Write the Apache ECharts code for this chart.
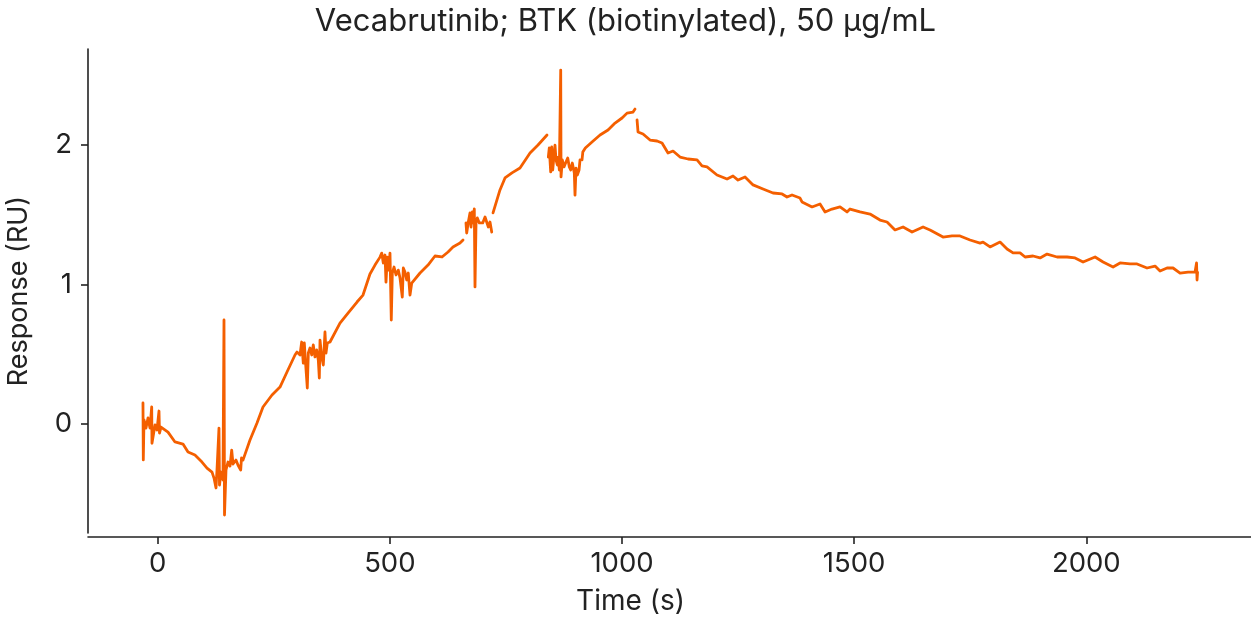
<!DOCTYPE html>
<html>
<head>
<meta charset="utf-8">
<script src="https://cdn.jsdelivr.net/npm/echarts@6/dist/echarts.min.js"></script>
<style>
html,body{margin:0;padding:0;background:#fff;}
#chart{width:1251px;height:620px;}
</style>
</head>
<body>
<div id="chart"></div>
<script>
// Sensorgram data (time in s, response in RU); null = gap in trace
const times = [
  -31.7,-31.0,-29.5,-25.2,-20.9,-16.6,-12.9,-12.3,-5.8,-1.5,2.8,3.9,7.1,22.2,37.3,54.5,65.3,80.3,95.4,106.2,117.0,
  121.3,125.6,127.7,132.0,133.1,136.3,140.6,142.8,143.9,147.1,151.4,155.7,159.4,162.2,168.6,172.9,178.8,180.5,183.7,
  198.8,213.9,226.8,246.2,263.4,278.5,295.7,
  300.0,306.5,310.1,313.6,315.8,318.8,322.2,324.4,328.0,331.7,335.1,338.8,342.5,345.9,348.1,349.6,353.2,356.7,360.3,362.5,365.3,
  371.1,392.6,409.9,429.3,442.2,457.2,468.0,478.8,
  482.5,485.9,489.6,491.7,494.5,497.5,500.3,502.5,503.1,505.3,509.0,513.3,518.2,521.9,526.8,529.0,532.6,536.3,539.7,543.4,547.1,550.5,
  565.0,582.2,597.2,612.3,625.3,636.0,651.1,657.6,661.0,
  664.0,665.5,669.0,672.6,674.8,677.6,679.8,681.9,683.4,685.6,688.4,692.7,695.7,700.0,705.0,708.6,712.1,715.7,719.4,721.0,
  722.2,737.2,748.0,763.0,780.3,801.9,819.1,838.5,840.0,
  841.3,843.4,846.4,848.6,850.8,853.6,855.7,857.9,860.7,862.8,865.0,868.0,868.7,871.5,875.1,879.4,883.1,886.5,889.5,893.0,897.3,898.8,901.0,903.8,907.5,909.6,912.0,
  913.9,915.6,921.0,935.4,952.7,969.9,985.0,1000.1,1010.8,1023.8,1028.1,1030.5,
  1032.4,1034.5,1045.3,1060.4,1075.4,1086.2,1099.1,1109.9,1125.0,1142.2,1161.6,1172.3,1183.1,1204.6,1226.2,1239.1,1249.9,1265.0,1282.2,
  1303.7,1325.3,1344.7,1355.4,1366.2,1383.4,1387.7,1409.3,1426.5,1437.3,1452.3,1469.6,1484.6,1491.1,1512.6,1534.2,1555.7,1570.8,1588.0,
  1605.3,1624.7,1648.4,1663.4,1691.4,1710.8,1728.0,1749.6,1771.1,1777.6,1792.7,1814.2,1829.3,1842.2,1857.3,1868.1,1885.3,1900.4,1915.5,
  1937.0,1958.6,1975.8,1993.0,2018.9,2036.1,2057.6,2072.7,2094.2,2109.3,2130.8,2148.0,2158.8,2173.9,2186.8,2201.9,2219.1,2234.2,2237.4,2238.5,2239.6
];
const response = [
  0.149,-0.260,0.027,-0.031,0.041,-0.031,0.120,-0.140,-0.009,-0.045,0.091,-0.067,-0.024,-0.060,-0.131,-0.146,-0.203,-0.225,-0.275,-0.318,-0.347,
  -0.390,-0.461,-0.332,-0.031,-0.440,-0.347,-0.404,0.744,-0.655,-0.332,-0.275,-0.304,-0.189,-0.289,-0.261,-0.296,-0.332,-0.246,-0.261,
  -0.117,0.005,0.120,0.206,0.263,0.371,0.493,
  0.514,0.493,0.586,0.435,0.579,0.421,0.256,0.507,0.543,0.493,0.565,0.479,0.529,0.457,0.328,0.600,0.479,0.421,0.658,0.507,0.579,
  0.586,0.722,0.794,0.873,0.923,1.074,1.138,1.195,
  1.224,1.153,1.210,1.016,1.195,1.102,1.224,1.232,0.744,1.080,1.124,1.067,1.102,1.045,0.909,1.117,1.088,1.031,1.081,0.923,1.009,1.009,
  1.081,1.138,1.203,1.196,1.232,1.268,1.296,1.318,null,
  1.440,1.368,1.447,1.512,1.411,1.519,1.440,1.541,0.981,1.440,1.476,1.440,1.454,1.440,1.483,1.497,1.411,1.447,1.375,null,
  1.512,1.677,1.763,1.799,1.834,1.942,1.999,2.071,null,
  1.913,1.978,1.806,1.985,1.820,1.927,1.999,1.892,1.856,1.913,1.820,2.537,1.770,1.892,1.842,1.877,1.906,1.842,1.820,1.870,1.798,1.640,1.834,1.784,1.820,1.892,null,
  1.892,1.949,1.978,2.021,2.071,2.107,2.157,2.193,2.228,2.236,2.257,null,
  2.179,2.093,2.078,2.035,2.028,2.014,1.942,1.956,1.913,1.899,1.892,1.849,1.842,1.784,1.755,1.777,1.748,1.770,1.713,
  1.684,1.655,1.648,1.626,1.641,1.619,1.591,1.555,1.576,1.519,1.540,1.555,1.519,1.540,1.519,1.504,1.461,1.447,1.390,
  1.411,1.375,1.411,1.390,1.339,1.347,1.347,1.318,1.296,1.303,1.268,1.303,1.253,1.225,1.225,1.196,1.203,1.189,1.217,
  1.196,1.196,1.189,1.160,1.196,1.160,1.124,1.153,1.146,1.146,1.117,1.131,1.095,1.117,1.117,1.081,1.088,1.088,1.153,1.031,1.088
];
const xTicks = [0, 500, 1000, 1500, 2000];
const yTicks = [0, 1, 2];
const titleText = 'Vecabrutinib; BTK (biotinylated), 50 μg/mL';
const xName = 'Time (s)';
const yName = 'Response (RU)';

const data = times.map((t, i) => [t, response[i]]);
const FONT = 'Inter';
const INK = '#222222';

const chart = echarts.init(document.getElementById('chart'), null, {renderer: 'canvas'});
chart.setOption({
  animation: false,
  backgroundColor: '#ffffff',
  title: {
    text: titleText,
    left: 'center',
    top: 1,
    textStyle: {fontFamily: FONT, fontSize: 31, fontWeight: 'normal', color: INK}
  },
  grid: {left: 88, right: 0, top: 49, bottom: 87, containLabel: false, outerBoundsMode: 'none'},
  xAxis: {
    type: 'value',
    min: -150.1,
    max: 2354.7,
    offset: 4,
    name: xName,
    nameLocation: 'middle',
    nameGap: 51,
    nameTextStyle: {fontFamily: FONT, fontSize: 28, color: INK, padding: [0, 78, 0, 0]},
    axisLine: {show: true, onZero: false, lineStyle: {color: INK, width: 1.6}},
    axisTick: {show: true, length: 7, customValues: xTicks, lineStyle: {color: INK, width: 1.6}},
    axisLabel: {customValues: xTicks, formatter: v => String(v), fontFamily: FONT, fontSize: 27.5, color: INK, margin: 13},
    splitLine: {show: false}
  },
  yAxis: {
    type: 'value',
    min: -0.784,
    max: 2.688,
    name: yName,
    nameLocation: 'middle',
    nameGap: 56,
    nameTextStyle: {fontFamily: FONT, fontSize: 27, color: INK},
    axisLine: {show: true, onZero: false, lineStyle: {color: INK, width: 1.6}},
    axisTick: {show: true, length: 7, customValues: yTicks, lineStyle: {color: INK, width: 1.6}},
    axisLabel: {customValues: yTicks, formatter: v => String(v), fontFamily: FONT, fontSize: 27.5, color: INK, margin: 16},
    splitLine: {show: false}
  },
  series: [{
    type: 'line',
    data: data,
    showSymbol: false,
    symbol: 'none',
    connectNulls: false,
    lineStyle: {color: '#F45F00', width: 2.8, join: 'round', cap: 'round'},
    z: 3
  }]
});
</script>
</body>
</html>
